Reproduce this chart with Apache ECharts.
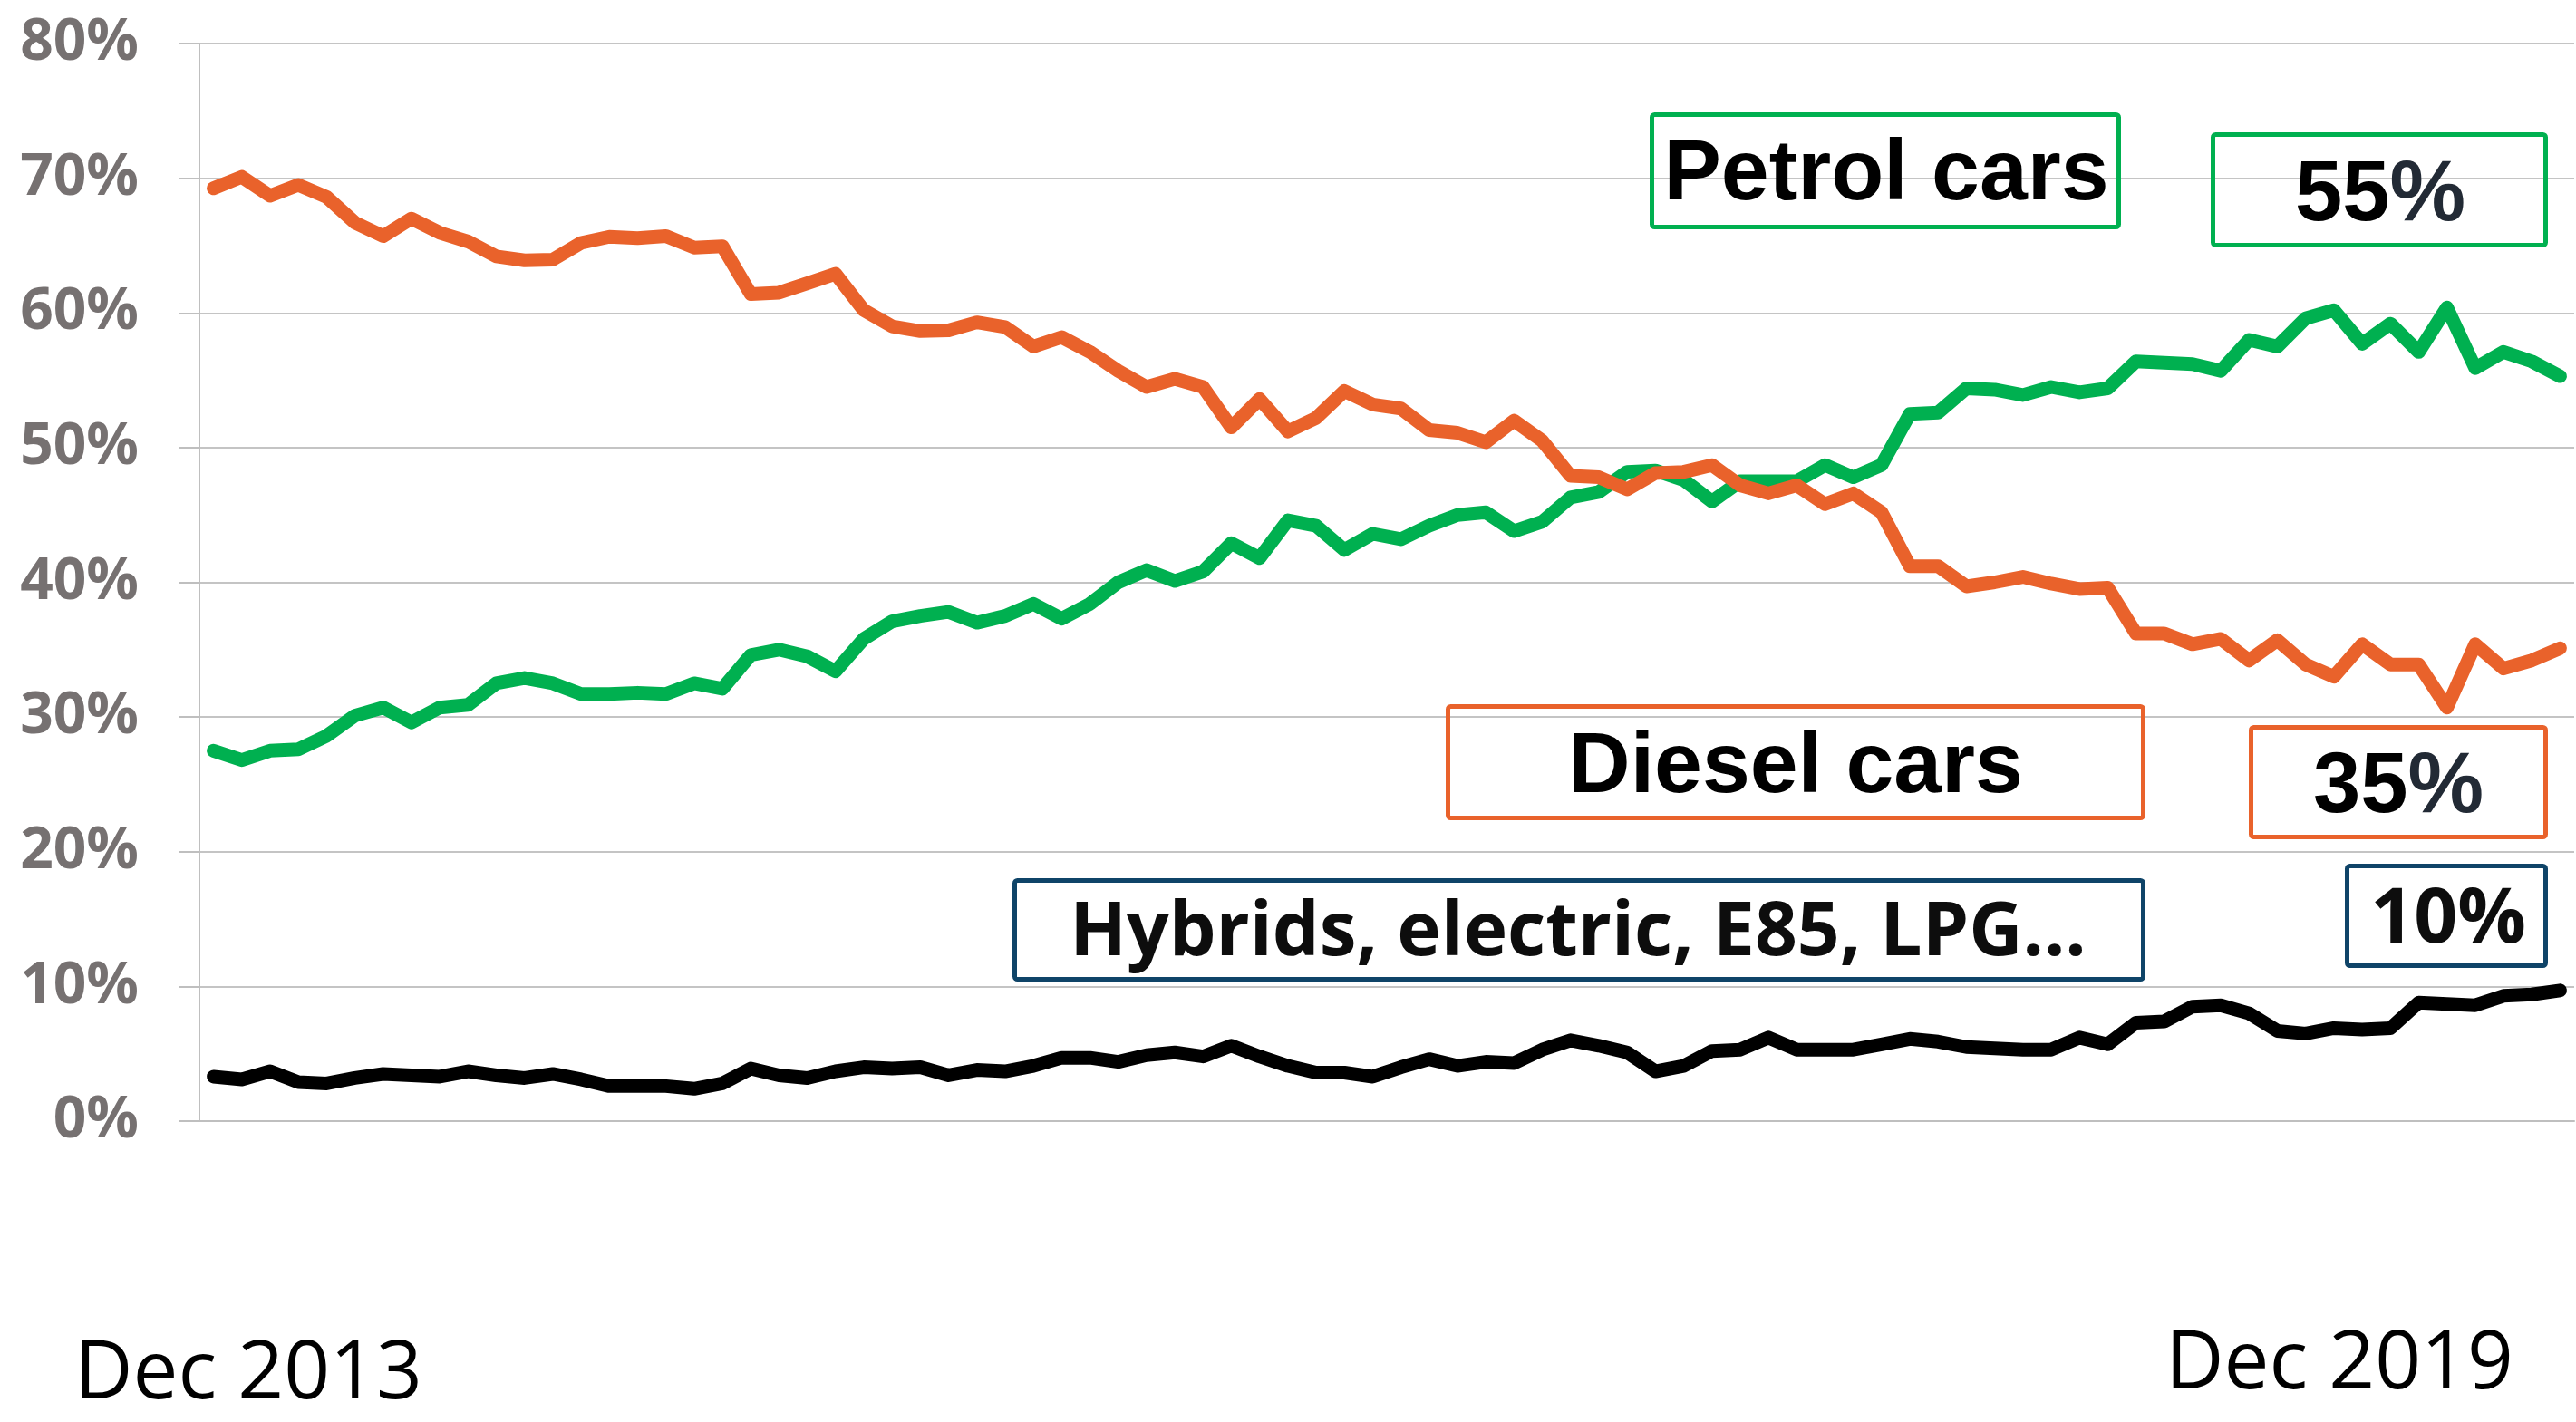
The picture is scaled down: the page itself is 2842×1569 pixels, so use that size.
<!DOCTYPE html>
<html>
<head>
<meta charset="utf-8">
<script src="https://cdn.jsdelivr.net/npm/echarts@6/dist/echarts.min.js"></script>
<style>
html,body{margin:0;padding:0;background:#fff;}
#chart{width:2842px;height:1569px;}
</style>
</head>
<body>
<div id="chart"></div>
<script>
// Monthly categories (84 months)
var startYear = 2013;
var monthNames = ['Jan','Feb','Mar','Apr','May','Jun','Jul','Aug','Sep','Oct','Nov','Dec'];
var categories = [];
for (var y = 0; y < 7; y++) { for (var m = 0; m < 12; m++) { categories.push(monthNames[m] + ' ' + (startYear + y)); } }

var yTicks = [0, 10, 20, 30, 40, 50, 60, 70, 80];

var petrol = [27.5,26.8,27.5,27.6,28.6,30.1,30.7,29.6,30.7,30.9,32.5,32.9,32.5,31.7,31.7,31.8,31.7,32.5,32.1,34.6,
  35.0,34.5,33.4,35.8,37.1,37.5,37.8,37.0,37.5,38.4,37.3,38.4,40.0,40.9,40.1,40.8,42.9,41.8,44.6,44.2,
  42.4,43.6,43.2,44.2,45.0,45.2,43.8,44.5,46.3,46.7,48.2,48.3,47.6,46.0,47.5,47.5,47.5,48.7,47.8,48.7,
  52.5,52.6,54.4,54.3,53.9,54.5,54.1,54.4,56.4,56.3,56.2,55.7,58.0,57.5,59.6,60.2,57.7,59.2,57.1,60.4,
  55.9,57.1,56.4,55.3];

var diesel = [69.25,70.1,68.7,69.5,68.6,66.7,65.7,67.0,65.95,65.3,64.2,63.9,63.96,65.2,65.65,65.55,65.7,64.85,64.95,61.4,
  61.5,62.2,62.9,60.2,59.0,58.65,58.7,59.3,58.95,57.5,58.2,57.1,55.7,54.5,55.1,54.5,51.5,53.6,51.2,52.2,
  54.2,53.2,52.9,51.3,51.1,50.4,52.0,50.5,47.9,47.8,46.9,48.1,48.2,48.7,47.2,46.6,47.2,45.8,46.6,45.2,
  41.2,41.2,39.7,40.0,40.4,39.9,39.5,39.6,36.2,36.2,35.4,35.8,34.2,35.7,33.9,33.0,35.4,33.9,33.9,30.7,
  35.4,33.6,34.2,35.1];

var other = [3.3,3.1,3.7,2.9,2.8,3.2,3.5,3.4,3.3,3.7,3.4,3.2,3.5,3.1,2.6,2.6,2.6,2.4,2.8,3.9,
  3.4,3.2,3.7,4.0,3.9,4.0,3.4,3.8,3.7,4.1,4.7,4.7,4.4,4.9,5.1,4.8,5.6,4.8,4.1,3.6,
  3.6,3.3,4.0,4.6,4.1,4.4,4.3,5.3,6.0,5.6,5.1,3.7,4.1,5.2,5.3,6.2,5.3,5.3,5.3,5.7,
  6.1,5.9,5.5,5.4,5.3,5.3,6.2,5.7,7.3,7.4,8.5,8.6,8.0,6.7,6.5,6.9,6.8,6.9,8.8,8.7,
  8.6,9.3,9.4,9.7];

var seriesNames = ['Petrol cars', 'Diesel cars', 'Hybrids, electric, E85, LPG...'];
var endLabels = ['55%', '35%', '10%'];
var xEndLabels = ['Dec 2013', 'Dec 2019'];

var GREEN = '#00B050', ORANGE = '#E9622B', BLACK = '#000000', NAVY = '#0F4468';

var chart = echarts.init(document.getElementById('chart'), null, {renderer: 'canvas'});

function box(x, y, w, h, color) {
  return {type: 'rect', z: 10, shape: {x: x, y: y, width: w, height: h, r: 3},
    style: {fill: 'none', stroke: color, lineWidth: 5}};
}
function label(text, x, y, font, color, rich) {
  var st = {text: text, x: x, y: y, font: font, fill: color, align: 'center', verticalAlign: 'middle'};
  if (rich) st.rich = rich;
  return {type: 'text', z: 11, style: st};
}
var pctRich = {
  n: {font: 'bold 94px "Liberation Sans", Arial, sans-serif', fill: '#000'},
  p: {font: 'bold 94px "Liberation Sans", Arial, sans-serif', fill: '#222a35'}
};

var option = {
  animation: false,
  backgroundColor: '#ffffff',
  grid: {left: 220, right: 2, top: 48, bottom: 332, containLabel: false},
  xAxis: {
    type: 'category',
    data: categories,
    boundaryGap: true,
    axisLine: {show: true, lineStyle: {color: '#bfbfbf', width: 2}},
    axisTick: {show: false},
    axisLabel: {show: false},
    splitLine: {show: false}
  },
  yAxis: {
    type: 'value',
    min: yTicks[0],
    max: yTicks[yTicks.length - 1],
    interval: 10,
    axisLine: {show: true, lineStyle: {color: '#bfbfbf', width: 2}},
    axisTick: {show: true, length: 22, lineStyle: {color: '#bfbfbf', width: 2}},
    axisLabel: {
      formatter: '{value}%', margin: 67,
      fontFamily: '"Open Sans", sans-serif', fontWeight: 'bold', fontSize: 64, color: '#767171'
    },
    splitLine: {show: true, lineStyle: {color: '#c4c4c4', width: 2}}
  },
  series: [
    {name: seriesNames[0], type: 'line', data: petrol, symbol: 'none', z: 3,
      lineStyle: {color: GREEN, width: 15, cap: 'round', join: 'round'}},
    {name: seriesNames[1], type: 'line', data: diesel, symbol: 'none', z: 4,
      lineStyle: {color: ORANGE, width: 15, cap: 'round', join: 'round'}},
    {name: seriesNames[2], type: 'line', data: other, symbol: 'none', z: 5,
      lineStyle: {color: BLACK, width: 15, cap: 'round', join: 'round'}}
  ],
  graphic: [
    box(1822.5, 126.5, 515, 124, GREEN),
    label(seriesNames[0], 2081, 194, 'bold 95px "Liberation Sans", Arial, sans-serif', '#000'),
    box(2441.5, 148.5, 367, 122, GREEN),
    label('{n|' + endLabels[0].slice(0, -1) + '}{p|%}', 2626, 217, 'bold 94px "Liberation Sans", Arial, sans-serif', '#000', pctRich),
    box(1597.5, 779.5, 767, 123, ORANGE),
    label(seriesNames[1], 1981, 848, 'bold 95px "Liberation Sans", Arial, sans-serif', '#000'),
    box(2483.5, 802.5, 325, 121, ORANGE),
    label('{n|' + endLabels[1].slice(0, -1) + '}{p|%}', 2646, 870, 'bold 94px "Liberation Sans", Arial, sans-serif', '#000', pctRich),
    box(1119.5, 971.5, 1245, 109, NAVY),
    label(seriesNames[2], 1741, 1031, 'bold 82px "Open Sans", sans-serif', '#0d0d0d'),
    box(2589.5, 955.5, 219, 110, NAVY),
    label(endLabels[2], 2701, 1016, 'bold 84px "Open Sans", sans-serif', '#0d0d0d'),
    {type: 'text', z: 11, style: {text: xEndLabels[0], x: 82, y: 1518, font: '89px "Open Sans", sans-serif', fill: '#000', align: 'left', verticalAlign: 'middle'}},
    {type: 'text', z: 11, style: {text: xEndLabels[1], x: 2389, y: 1507, font: '89px "Open Sans", sans-serif', fill: '#000', align: 'left', verticalAlign: 'middle'}}
  ]
};
chart.setOption(option);
</script>
</body>
</html>
